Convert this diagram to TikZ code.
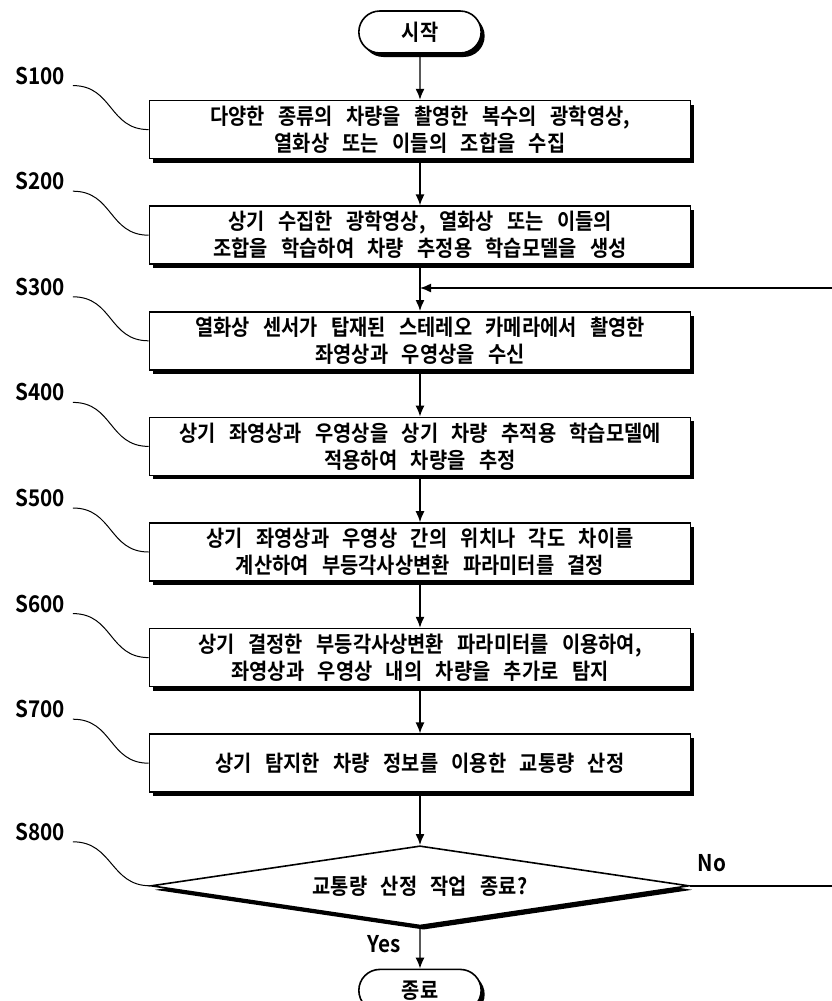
\documentclass[tikz,border=0pt]{standalone}
\usepackage{fontspec}
\setmainfont{Noto Sans CJK KR}[BoldFont={Noto Sans CJK KR Bold}, WordSpace=3, FakeStretch=0.9]
\usetikzlibrary{arrows.meta, positioning, shapes.geometric, shapes.misc, shadows, calc}
\tikzset{
  stepbox/.style={
    draw,
    rectangle,
    line width=1.6pt,
    fill=white,
    minimum width=541pt,
    minimum height=58pt,
    align=center,
    font=\bfseries\fontsize{22}{27}\selectfont,
    drop shadow={shadow xshift=3.5pt, shadow yshift=-4pt, fill=black, opacity=1}
  },
  endbox/.style={
    stepbox,
    rounded rectangle,
    minimum width=129pt,
    minimum height=42pt
  },
  checkbox/.style={
    stepbox,
    diamond,
    aspect=6.7,
    inner sep=0pt,
    minimum width=538pt,
    minimum height=80pt
  },
  steplabel/.style={
    font=\bfseries\fontsize{23}{23}\selectfont,
    inner sep=0pt
  },
  leader/.style={
    line width=1pt
  },
  arrow/.style={
    line width=1.4pt,
    -{Latex[length=11pt,width=9pt]}
  }
}

\begin{document}
\begin{tikzpicture}[x=1pt, y=-1pt]
\useasboundingbox (0,0) rectangle (831,1001);

% --- start and steps ---
\node[endbox] (start) at (420,32) {시작};
\node[stepbox, below=46pt of start] (S100) {다양한 종류의 차량을 촬영한 복수의 광학영상,\\열화상 또는 이들의 조합을 수집};
\node[stepbox, below=46pt of S100] (S200) {상기 수집한 광학영상, 열화상 또는 이들의\\조합을 학습하여 차량 추정용 학습모델을 생성};
\node[stepbox, below=46pt of S200] (S300) {열화상 센서가 탑재된 스테레오 카메라에서 촬영한\\좌영상과 우영상을 수신};
\node[stepbox, below=46pt of S300] (S400) {상기 좌영상과 우영상을 상기 차량 추적용 학습모델에\\적용하여 차량을 추정};
\node[stepbox, below=46pt of S400] (S500) {상기 좌영상과 우영상 간의 위치나 각도 차이를\\계산하여 부등각사상변환 파라미터를 결정};
\node[stepbox, below=46pt of S500] (S600) {상기 결정한 부등각사상변환 파라미터를 이용하여,\\좌영상과 우영상 내의 차량을 추가로 탐지};
\node[stepbox, below=46pt of S600] (S700) {상기 탐지한 차량 정보를 이용한 교통량 산정};
\node[checkbox, below=52pt of S700] (S800) {교통량 산정 작업 종료?};
\node[endbox, below=42pt of S800] (stop) {종료};

% --- step labels with leaders ---
\foreach \s in {S100,S200,S300,S400,S500,S600,S700,S800} {
  \node[steplabel] (l\s) at ($(\s.center -| 40,0)+(0,-54)$) {\s};
  \draw[leader] ($(l\s.east)+(8,10)$) .. controls +(40,0) and +(-40,0) .. (\s.west);
}

% --- flow ---
\draw[arrow] (start) -- (S100);
\draw[arrow] (S100) -- (S200);
\draw[arrow] (S200) -- (S300);
\draw[arrow] (S300) -- (S400);
\draw[arrow] (S400) -- (S500);
\draw[arrow] (S500) -- (S600);
\draw[arrow] (S600) -- (S700);
\draw[arrow] (S700) -- (S800);
\draw[arrow] (S800) -- (stop);

% --- loop back ---
\coordinate (join) at ($(S200.south)!0.5!(S300.north)$);
\coordinate (rtlow) at (850,0 |- S800.east);
\coordinate (rthigh) at (850,0 |- join);
\draw[arrow] (S800.east) -- (rtlow) -- (rthigh) -- (join);

\node[steplabel] (no) at ($(S800.east)+(22,-23)$) {No};
\node[steplabel] (yes) at ($(S800.south)+(-36,18)$) {Yes};

\end{tikzpicture}
\end{document}
